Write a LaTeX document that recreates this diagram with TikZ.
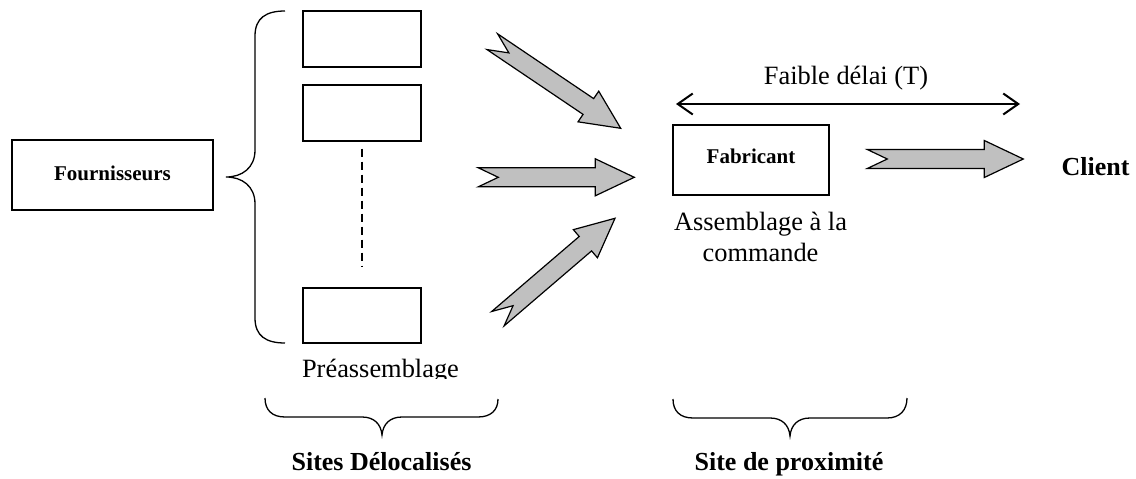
\documentclass[tikz,border=0pt]{standalone}
\usepackage{fontspec}
\setmainfont{Liberation Serif}
\usetikzlibrary{arrows.meta,calc}
\definecolor{arrowgray}{RGB}{192,192,192}
\tikzset{
  box/.style={draw, line width=1.3pt, inner sep=0pt},
  lbl/.style={inner sep=0pt, anchor=base, font=\fontsize{26.4}{31}\selectfont},
  blbl/.style={inner sep=0pt, anchor=base, font=\fontsize{26}{31}\selectfont\bfseries},
  sbl/.style={font=\fontsize{21}{25}\selectfont\bfseries},
  fatarrow/.style={draw=black, fill=arrowgray, line width=1.2pt, line join=miter},
  bracepath/.style={draw, line width=1.3pt},
  dblarrow/.style={line width=2pt, {Straight Barb[length=15pt,width=21pt]}-{Straight Barb[length=15pt,width=21pt]}},
  dashline/.style={line width=1.3pt, dash pattern=on 8pt off 5pt}
}
\newcommand\fatarrow[2]{%
  \coordinate (#1-h) at ($(#2)!39pt!(#1)$);
  \coordinate (#1-n) at ($(#1)!20pt!(#2)$);
  \filldraw[fatarrow] ($(#1)!9.5pt!90:(#2)$) -- ($(#1-h)!9.5pt!90:(#2)$) -- ($(#1-h)!18.5pt!90:(#2)$) -- (#2) -- ($(#1-h)!18.5pt!-90:(#2)$) -- ($(#1-h)!9.5pt!-90:(#2)$) -- ($(#1)!9.5pt!-90:(#2)$) -- (#1-n) -- cycle;}
\begin{document}
\begin{tikzpicture}[x=1pt,y=-1pt]
\useasboundingbox (0,0) rectangle (1136,479);

% Fournisseurs
\node[box, sbl, minimum width=201pt, minimum height=70pt, text height=14pt, text depth=4pt] (four) at (112.5,175) {Fournisseurs};

% left brace
\draw[bracepath] (285,11) .. controls (266,11) and (255,18) .. (255,36) -- (255,150)
  .. controls (255,168) and (242,177) .. (226,177)
  .. controls (242,177) and (255,186) .. (255,204) -- (255,318)
  .. controls (255,336) and (266,343) .. (285,343);

% preassembly boxes
\node[box, minimum width=118pt, minimum height=56pt] (b1) at (362,39) {};
\node[box, minimum width=118pt, minimum height=56pt] (b2) at (362,113) {};
\node[box, minimum width=118pt, minimum height=55pt] (b3) at (362,315.5) {};
\draw[dashline] ([yshift=-7pt]b2.south) -- ([yshift=21pt]b3.north);

\begin{scope}
  \clip (250,340) rectangle (520,378.5);
  \node[lbl] (pre) at (380.5,377) {Préassemblage};
\end{scope}

% block arrows
\coordinate (aT) at (492.3,41.7);  \coordinate (aH) at (620.7,128.3);
\coordinate (bT) at (478.3,177.3); \coordinate (bH) at (634.3,177.3);
\coordinate (cT) at (497.9,318.7); \coordinate (cH) at (615,218.3);
\coordinate (dT) at (867.3,159);   \coordinate (dH) at (1023.3,159);
\fatarrow{aT}{aH}
\fatarrow{bT}{bH}
\fatarrow{cT}{cH}
\fatarrow{dT}{dH}

% Fabricant
\node[box, sbl, minimum width=156pt, minimum height=70pt, text height=14pt, text depth=8pt] (fab) at (751,160) {Fabricant};
\node[lbl, align=center] (asm) at (760.5,261) {Assemblage à la\\commande};

% delay arrow
\coordinate (dl) at (676,104);
\coordinate (dr) at (1020,104);
\draw[dblarrow] (dl) -- (dr);
\node[lbl] (delai) at (846,84) {Faible délai (T)};

% Client
\node[blbl] (client) at (1095.5,175) {Client};

% bottom braces
\draw[bracepath] (265,398) .. controls (265,410) and (272,417) .. (285,417) -- (362,417)
  .. controls (374,417) and (381,424) .. (382,435)
  .. controls (383,424) and (390,417) .. (402,417) -- (478,417)
  .. controls (491,417) and (498,410) .. (498,399);
\draw[bracepath] (673,399) .. controls (673,411) and (680,418) .. (693,418) -- (770,418)
  .. controls (782,418) and (789,425) .. (790,436)
  .. controls (791,425) and (798,418) .. (810,418) -- (887,418)
  .. controls (900,418) and (907,410) .. (907,398);

\node[blbl] (sd) at (381.5,470) {Sites Délocalisés};
\node[blbl] (sp) at (789,470) {Site de proximité};
\end{tikzpicture}
\end{document}
